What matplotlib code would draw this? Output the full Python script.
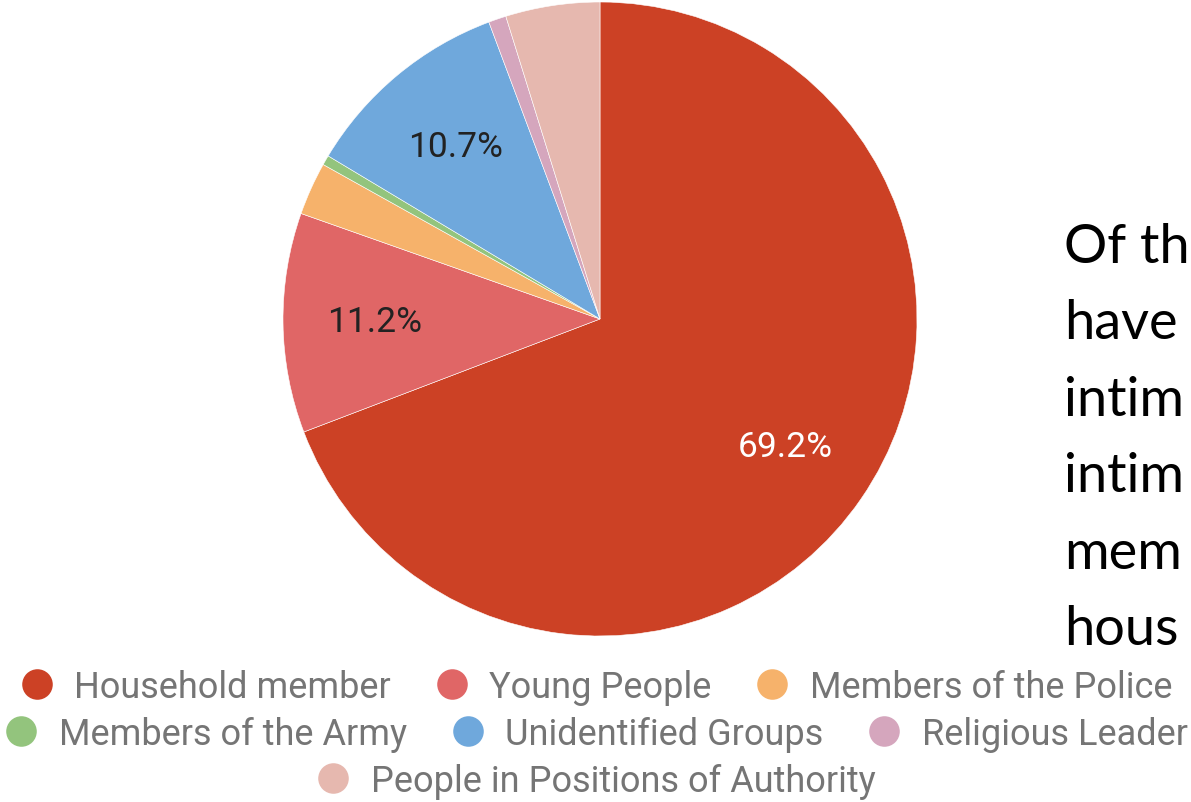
import matplotlib.pyplot as plt
from matplotlib.lines import Line2D

# slice data (clockwise from 12 o'clock)
labels = ['Household member', 'Young People', 'Members of the Police',
          'Members of the Army', 'Unidentified Groups', 'Religious Leader',
          'People in Positions of Authority']
shares = [69.2, 11.2, 2.7, 0.5, 10.7, 0.9, 4.8]
colors = ['#CC4125', '#E06666', '#F6B26B', '#93C47D', '#6FA8DC', '#D5A6BD', '#E6B8AF']

# the side note is cropped at the right edge in the source, only this much shows
side_text = ['Of th', 'have', 'intim', 'intim', 'mem', 'hous']

W, H = 1191, 803
fig = plt.figure(figsize=(W / 100, H / 100), dpi=100)
ax = fig.add_axes([0, 0, 1, 1])


def pct_label(p):
    return f'{p:.1f}%' if p > 5 else ''


wedges, texts, autotexts = ax.pie(
    shares, colors=colors, startangle=90, counterclock=False,
    center=(600, H - 320), radius=317, autopct=pct_label, pctdistance=0.71,
    wedgeprops=dict(linewidth=0.4, edgecolor='white'),
    textprops=dict(fontsize=25.5, family='Roboto', color='#222222'))
autotexts[0].set_color('white')

ax.set_xlim(0, W)
ax.set_ylim(0, H)
ax.set_aspect('auto')
ax.axis('off')

# text on the right
for i, line in enumerate(side_text):
    fig.text(1064 / W, 1 - (263 + i * 76.4) / H, line, fontsize=39,
             family='Lato', color='black', va='baseline', ha='left')

# legend, three centred rows
rows = [[0, 1, 2], [3, 4, 5], [6]]
row_y = [688, 735, 782]
for idx, y in zip(rows, row_y):
    handles = [Line2D([], [], linestyle='none', marker='o', markersize=22,
                      markerfacecolor=colors[i], markeredgewidth=0)
               for i in idx]
    fig.legend(handles, [labels[i] for i in idx], ncol=len(idx), loc='center',
               bbox_to_anchor=(0.5, 1 - y / H), frameon=False,
               prop=dict(family='Roboto', size=26), labelcolor='#757575',
               handlelength=1.0, handletextpad=0.54, columnspacing=1.18,
               borderpad=0, borderaxespad=0)

fig.savefig('out.png', dpi=100)
